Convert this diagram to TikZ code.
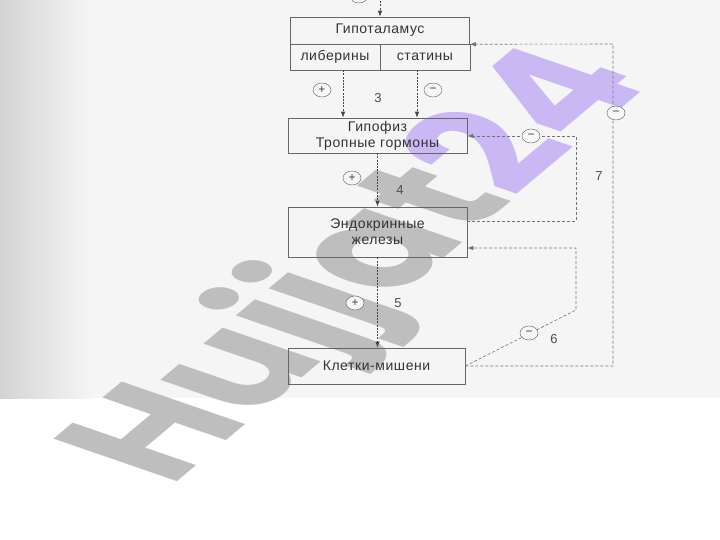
\documentclass[tikz,border=0pt]{standalone}
\usepackage{fontspec}
\setmainfont{Liberation Sans}[LetterSpace=4]
\newfontfamily\wmfont{Poppins}
\usetikzlibrary{arrows.meta,shapes.geometric}

\definecolor{wmgray}{RGB}{190,190,190}
\definecolor{wmviolet}{RGB}{202,184,245}

\begin{document}
\begin{tikzpicture}[x=1pt,y=-1pt,
  box/.style={draw=black!60,line width=0.6pt,minimum width=179pt,inner sep=0pt,
    align=center,text=black!80,font=\fontsize{14}{16}\selectfont},
  cell/.style={box,minimum width=90pt,minimum height=26pt},
  sign/.style={draw=black!65,fill=black!3,ellipse,minimum width=18pt,minimum height=14pt,
    inner sep=0pt,text=black!75,font=\fontsize{12}{12}\selectfont},
  num/.style={text=black!70,font=\fontsize{13}{13}\selectfont},
  flow/.style={draw=black!72,line width=0.7pt,dash pattern=on 2pt off 1.2pt,
    -{Latex[length=6pt,width=4.5pt]}},
  back/.style={draw=black!55,line width=0.6pt,dash pattern=on 3pt off 2pt},
  wm/.style={transform shape,inner sep=0pt,text=wmgray,
    font=\wmfont\bfseries\fontsize{100}{100}\selectfont}]

  \useasboundingbox (0,0) rectangle (720,540);
  \clip (0,0) rectangle (720,540);

  % scanned page
  \fill[white] (0,0) rectangle (720,540);
  \fill[black!4] (0,0) rectangle (720,398);
  \shade[left color=black!17,right color=black!4] (0,0) rectangle (90,398);

  % watermark
  \begin{scope}[shift={(170,488)}]
    \node[wm,anchor=base west,cm={1.12,0.94,-1.759,0.606,(0,0)}] (mark) at (0,0)
      {Hujjat\textcolor{wmviolet}{ 24}};
  \end{scope}

  \node[box,minimum height=27pt] (hyp) at (380,30.5) {Гипоталамус};
  \node[cell] (lib) at (335,57) {либерины};
  \node[cell] (stat) at (425,57) {статины};

  \node[box,minimum height=35pt] (gip) at (377.5,135.5) {Гипофиз\\Тропные гормоны};
  \node[box,minimum height=50pt] (endo) at (377.5,232) {Эндокринные\\железы};
  \node[box,minimum width=177pt,minimum height=36pt] (targ) at (376.5,366) {Клетки-мишени};

  \coordinate (top) at (380,-2);
  \coordinate (c7a) at (576,221);
  \coordinate (c7b) at (576,136);
  \coordinate (c6a) at (576,310);
  \coordinate (c6b) at (576,248);
  \coordinate (c8a) at (613,366);
  \coordinate (c8b) at (613,44);

  \draw[flow] (top) -- (hyp.north);
  \draw[flow] ([xshift=8pt]lib.south) -- ([xshift=8pt]lib.south |- gip.north);
  \draw[flow] ([xshift=-8pt]stat.south) -- ([xshift=-8pt]stat.south |- gip.north);
  \draw[flow] (gip.south) -- (endo.north);
  \draw[flow] (endo.south) -- (endo.south |- targ.north);

  \draw[back,-{Latex[length=6pt,width=4.5pt]}] (endo.east |- c7a) -- (c7a) -- (c7b) -- (gip.east |- c7b);
  \draw[back,-{Latex[length=6pt,width=4.5pt]}] (targ.east) -- (c6a) -- (c6b) -- (endo.east |- c6b);
  \draw[back,-{Latex[length=6pt,width=4.5pt]}] (targ.east) -- (c8a) -- (c8b) -- (hyp.south east);

  \node[sign] (s0) at (359,-4) {+};
  \node[sign] (s3a) at (322,90) {+};
  \node[sign] (s3b) at (433,90) {−};
  \node[sign] (s4) at (352,178) {+};
  \node[sign] (s5) at (355,303) {+};
  \node[sign] (s7a) at (531,136) {−};
  \node[sign] (s6) at (529,333) {−};
  \node[sign] (s8) at (616,113) {−};

  \node[num] (n3) at (378,98) {3};
  \node[num] (n4) at (400,190) {4};
  \node[num] (n5) at (398,303) {5};
  \node[num] (n6) at (554,339) {6};
  \node[num] (n7) at (599,176) {7};
\end{tikzpicture}
\end{document}
